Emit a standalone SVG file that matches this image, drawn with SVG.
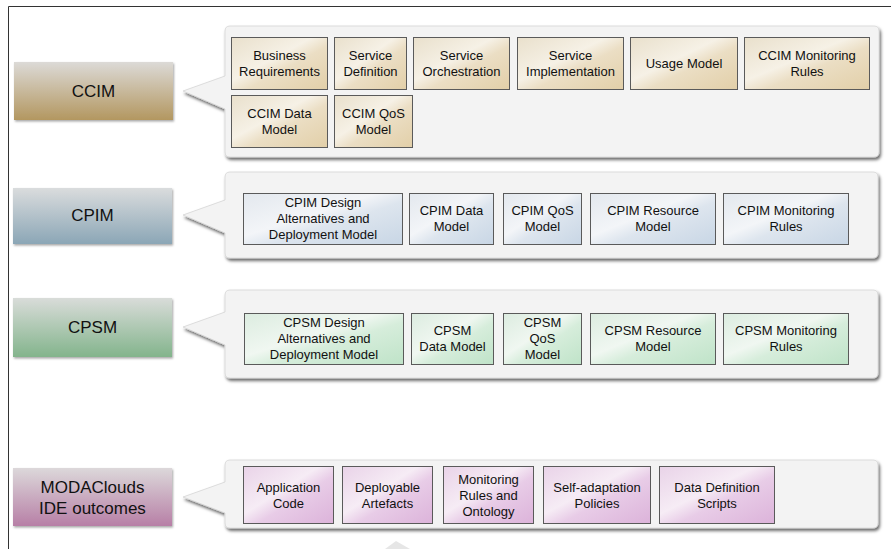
<svg xmlns="http://www.w3.org/2000/svg" width="891" height="549" viewBox="0 0 891 549">
<defs>
<filter id="sh" x="-5%" y="-10%" width="112%" height="130%"><feDropShadow dx="1.5" dy="2.5" stdDeviation="1.4" flood-color="#000" flood-opacity="0.6"/></filter>
<filter id="shl" x="-5%" y="-10%" width="112%" height="130%"><feDropShadow dx="1" dy="1.5" stdDeviation="1" flood-color="#000" flood-opacity="0.35"/></filter>
<linearGradient id="lCCIM" x1="0" y1="0" x2="0" y2="1"><stop offset="0" stop-color="#dcdad7"/><stop offset="1" stop-color="#b39760"/></linearGradient>
<linearGradient id="lCPIM" x1="0" y1="0" x2="0" y2="1"><stop offset="0" stop-color="#dadcdd"/><stop offset="1" stop-color="#8ba6b6"/></linearGradient>
<linearGradient id="lCPSM" x1="0" y1="0" x2="0" y2="1"><stop offset="0" stop-color="#d9dcd9"/><stop offset="1" stop-color="#83b48c"/></linearGradient>
<linearGradient id="lMODA" x1="0" y1="0" x2="0" y2="1"><stop offset="0" stop-color="#dcd8da"/><stop offset="1" stop-color="#b77fa6"/></linearGradient>
<linearGradient id="bCCIM" x1="0" y1="0" x2="1" y2="1"><stop offset="0" stop-color="#e9e0cc"/><stop offset="0.42" stop-color="#f6f1e6"/><stop offset="0.58" stop-color="#ebdec4"/><stop offset="1" stop-color="#e2cfa8"/></linearGradient>
<linearGradient id="bCPIM" x1="0" y1="0" x2="1" y2="1"><stop offset="0" stop-color="#e3e8ee"/><stop offset="0.42" stop-color="#f3f5f8"/><stop offset="0.58" stop-color="#dde5ee"/><stop offset="1" stop-color="#c8d6e5"/></linearGradient>
<linearGradient id="bCPSM" x1="0" y1="0" x2="1" y2="1"><stop offset="0" stop-color="#dcece0"/><stop offset="0.42" stop-color="#f0f7f1"/><stop offset="0.58" stop-color="#d6eddb"/><stop offset="1" stop-color="#bfe3c8"/></linearGradient>
<linearGradient id="bMODA" x1="0" y1="0" x2="1" y2="1"><stop offset="0" stop-color="#e9d3e8"/><stop offset="0.42" stop-color="#f6ecf5"/><stop offset="0.58" stop-color="#e8cce7"/><stop offset="1" stop-color="#dcb3da"/></linearGradient>
</defs>
<style>
text{font-family:"Liberation Sans",Arial,Helvetica,sans-serif;fill:#111;text-anchor:middle}
.t{font-size:13px}
.lt{font-size:17px}
.panel{fill:#f3f3f3;stroke:#d6d6d6;stroke-width:0.8;filter:url(#sh)}
.lab{stroke:none;filter:url(#shl)}
.box{stroke:#5a5a5a;stroke-width:1}
.frame{fill:none;stroke:#333;stroke-width:1}
</style>
<rect width="891" height="549" fill="#fff"/>
<path class="frame" d="M8.5,549 V6.5 H891"/>
<polygon points="385,549 396,541 410,549" fill="#e6e6e6"/>

<!-- CCIM -->
<g id="ccim">
<rect class="lab" x="14" y="62" width="159" height="58" fill="url(#lCCIM)"/>
<text class="lt" x="93.5" y="97">CCIM</text>
</g>
<g id="ccim-panel">
<path class="panel" d="M230,26 H874 Q879,26 879,31 V152 Q879,157 874,157 H230 Q225,157 225,152 V109 L183,91 L225,76 V31 Q225,26 230,26 Z"/>
<g id="ccim-br"><rect class="box" x="231.5" y="37.5" width="96" height="52" fill="url(#bCCIM)"/><text class="t" x="279.5" y="59.5">Business</text><text class="t" x="279.5" y="75.5">Requirements</text></g>
<g id="ccim-sd"><rect class="box" x="334.5" y="37.5" width="72" height="52" fill="url(#bCCIM)"/><text class="t" x="370.5" y="59.5">Service</text><text class="t" x="370.5" y="75.5">Definition</text></g>
<g id="ccim-so"><rect class="box" x="413.5" y="37.5" width="96" height="52" fill="url(#bCCIM)"/><text class="t" x="461.5" y="59.5">Service</text><text class="t" x="461.5" y="75.5">Orchestration</text></g>
<g id="ccim-si"><rect class="box" x="517.5" y="37.5" width="106" height="52" fill="url(#bCCIM)"/><text class="t" x="570.5" y="59.5">Service</text><text class="t" x="570.5" y="75.5">Implementation</text></g>
<g id="ccim-um"><rect class="box" x="630.5" y="37.5" width="107" height="52" fill="url(#bCCIM)"/><text class="t" x="684" y="68">Usage Model</text></g>
<g id="ccim-mr"><rect class="box" x="744.5" y="37.5" width="125" height="52" fill="url(#bCCIM)"/><text class="t" x="807" y="59.5">CCIM Monitoring</text><text class="t" x="807" y="75.5">Rules</text></g>
<g id="ccim-dm"><rect class="box" x="231.5" y="95.5" width="96" height="52" fill="url(#bCCIM)"/><text class="t" x="279.5" y="117.5">CCIM Data</text><text class="t" x="279.5" y="133.5">Model</text></g>
<g id="ccim-qos"><rect class="box" x="334.5" y="95.5" width="78" height="52" fill="url(#bCCIM)"/><text class="t" x="373.5" y="117.5">CCIM QoS</text><text class="t" x="373.5" y="133.5">Model</text></g>
</g>

<!-- CPIM -->
<g id="cpim">
<rect class="lab" x="13" y="188" width="159" height="56" fill="url(#lCPIM)"/>
<text class="lt" x="92.5" y="221">CPIM</text>
</g>
<g id="cpim-panel">
<path class="panel" d="M230,172 H873 Q878,172 878,177 V253 Q878,258 873,258 H230 Q225,258 225,253 V233 L183,215 L225,200 V177 Q225,172 230,172 Z"/>
<g id="cpim-da"><rect class="box" x="243.5" y="193.5" width="159" height="51" fill="url(#bCPIM)"/><text class="t" x="323" y="207">CPIM Design</text><text class="t" x="323" y="223">Alternatives and</text><text class="t" x="323" y="239">Deployment Model</text></g>
<g id="cpim-dm"><rect class="box" x="409.5" y="193.5" width="84" height="51" fill="url(#bCPIM)"/><text class="t" x="451.5" y="215">CPIM Data</text><text class="t" x="451.5" y="231">Model</text></g>
<g id="cpim-qos"><rect class="box" x="503.5" y="193.5" width="78" height="51" fill="url(#bCPIM)"/><text class="t" x="542.5" y="215">CPIM QoS</text><text class="t" x="542.5" y="231">Model</text></g>
<g id="cpim-rm"><rect class="box" x="590.5" y="193.5" width="125" height="51" fill="url(#bCPIM)"/><text class="t" x="653" y="215">CPIM Resource</text><text class="t" x="653" y="231">Model</text></g>
<g id="cpim-mr"><rect class="box" x="723.5" y="193.5" width="125" height="51" fill="url(#bCPIM)"/><text class="t" x="786" y="215">CPIM Monitoring</text><text class="t" x="786" y="231">Rules</text></g>
</g>

<!-- CPSM -->
<g id="cpsm">
<rect class="lab" x="13" y="298" width="159" height="59" fill="url(#lCPSM)"/>
<text class="lt" x="92.5" y="333">CPSM</text>
</g>
<g id="cpsm-panel">
<path class="panel" d="M230,290 H873 Q878,290 878,295 V373 Q878,378 873,378 H230 Q225,378 225,373 V345 L183,327 L225,312 V295 Q225,290 230,290 Z"/>
<g id="cpsm-da"><rect class="box" x="244.5" y="313.5" width="159" height="51" fill="url(#bCPSM)"/><text class="t" x="324" y="327">CPSM Design</text><text class="t" x="324" y="343">Alternatives and</text><text class="t" x="324" y="359">Deployment Model</text></g>
<g id="cpsm-dm"><rect class="box" x="411.5" y="313.5" width="82" height="51" fill="url(#bCPSM)"/><text class="t" x="452.5" y="335">CPSM</text><text class="t" x="452.5" y="351">Data Model</text></g>
<g id="cpsm-qos"><rect class="box" x="503.5" y="313.5" width="78" height="51" fill="url(#bCPSM)"/><text class="t" x="542.5" y="327">CPSM</text><text class="t" x="542.5" y="343">QoS</text><text class="t" x="542.5" y="359">Model</text></g>
<g id="cpsm-rm"><rect class="box" x="590.5" y="313.5" width="125" height="51" fill="url(#bCPSM)"/><text class="t" x="653" y="335">CPSM Resource</text><text class="t" x="653" y="351">Model</text></g>
<g id="cpsm-mr"><rect class="box" x="723.5" y="313.5" width="125" height="51" fill="url(#bCPSM)"/><text class="t" x="786" y="335">CPSM Monitoring</text><text class="t" x="786" y="351">Rules</text></g>
</g>

<!-- MODAClouds -->
<g id="moda">
<rect class="lab" x="13" y="468" width="159" height="58" fill="url(#lMODA)"/>
<text class="lt" x="92.5" y="493">MODAClouds</text>
<text class="lt" x="92.5" y="514">IDE outcomes</text>
</g>
<g id="moda-panel">
<path class="panel" d="M230,460 H873 Q878,460 878,465 V523 Q878,528 873,528 H230 Q225,528 225,523 V513 L183,497 L225,482 V465 Q225,460 230,460 Z"/>
<g id="moda-ac"><rect class="box" x="243.5" y="466.5" width="90" height="57" fill="url(#bMODA)"/><text class="t" x="288.5" y="491.5">Application</text><text class="t" x="288.5" y="507.5">Code</text></g>
<g id="moda-da"><rect class="box" x="342.5" y="466.5" width="90" height="57" fill="url(#bMODA)"/><text class="t" x="387.5" y="491.5">Deployable</text><text class="t" x="387.5" y="507.5">Artefacts</text></g>
<g id="moda-mr"><rect class="box" x="443.5" y="466.5" width="90" height="57" fill="url(#bMODA)"/><text class="t" x="488.5" y="483.5">Monitoring</text><text class="t" x="488.5" y="499.5">Rules and</text><text class="t" x="488.5" y="515.5">Ontology</text></g>
<g id="moda-sa"><rect class="box" x="543.5" y="466.5" width="107" height="57" fill="url(#bMODA)"/><text class="t" x="597" y="491.5">Self-adaptation</text><text class="t" x="597" y="507.5">Policies</text></g>
<g id="moda-dd"><rect class="box" x="659.5" y="466.5" width="115" height="57" fill="url(#bMODA)"/><text class="t" x="717" y="491.5">Data Definition</text><text class="t" x="717" y="507.5">Scripts</text></g>
</g>
<g id="connectors"/>
</svg>
